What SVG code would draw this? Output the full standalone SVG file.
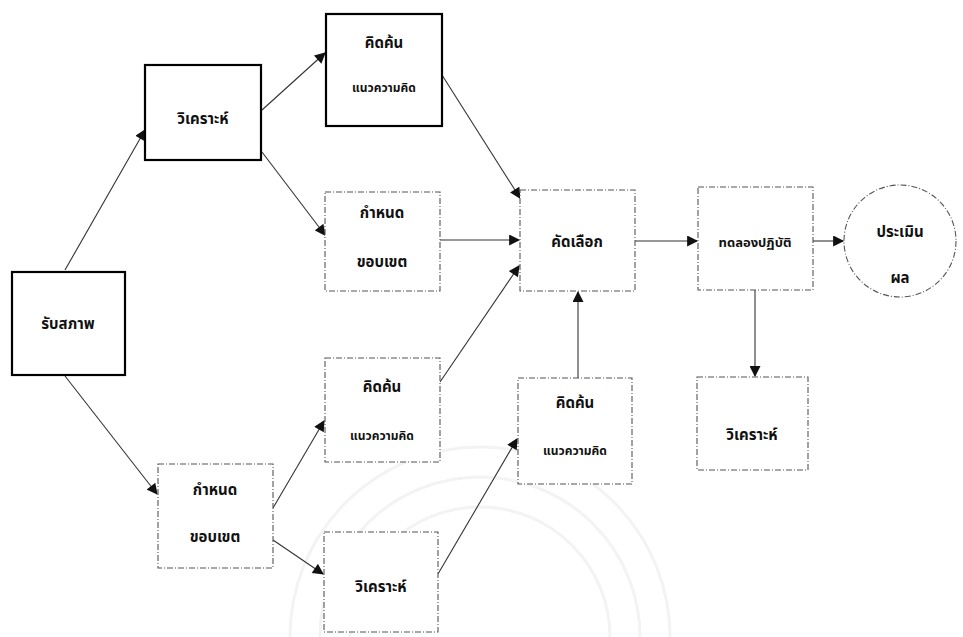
<svg xmlns="http://www.w3.org/2000/svg" width="963" height="637" viewBox="0 0 963 637">
<style>
.bx{fill:#fff;stroke:#222;stroke-width:1.3}
.bxd{fill:#fff;stroke:#555;stroke-width:1.1;stroke-dasharray:6 2 1 2}
.bxb{fill:#fff;stroke:#000;stroke-width:2.2}
.t{font-family:"Noto Sans Thai","Noto Sans","DejaVu Sans",sans-serif;font-size:15px;font-weight:bold;fill:#111;text-anchor:middle}
.c{stroke:#333;stroke-width:1.1;fill:none}
.wm{fill:none;stroke:#f3f3f3;stroke-width:3}
</style>
<defs>
<marker id="ah" viewBox="0 0 10 10" refX="9" refY="5" markerWidth="12" markerHeight="11" markerUnits="userSpaceOnUse" orient="auto">
<path d="M0,0 L10,5 L0,10 z" fill="#111"/>
</marker>
</defs>
<rect width="963" height="637" fill="#fff"/>
<g id="watermark">
<path class="wm" d="M290,637 A190,190 0 0 1 670,637"/>
<path class="wm" d="M320,637 A160,160 0 0 1 640,637"/>
<path class="wm" d="M350,637 A130,130 0 0 1 610,637"/>
</g>
<g id="connectors">
<line class="c" x1="65" y1="270" x2="145" y2="130" marker-end="url(#ah)"/>
<line class="c" x1="65" y1="376" x2="157" y2="494" marker-end="url(#ah)"/>
<line class="c" x1="262" y1="110" x2="325" y2="53" marker-end="url(#ah)"/>
<line class="c" x1="262" y1="152" x2="325" y2="235" marker-end="url(#ah)"/>
<line class="c" x1="442" y1="75" x2="520" y2="198" marker-end="url(#ah)"/>
<line class="c" x1="440" y1="240" x2="519" y2="240" marker-end="url(#ah)"/>
<line class="c" x1="440" y1="382" x2="519" y2="266" marker-end="url(#ah)"/>
<line class="c" x1="273" y1="508" x2="324" y2="421" marker-end="url(#ah)"/>
<line class="c" x1="273" y1="540" x2="323" y2="574" marker-end="url(#ah)"/>
<line class="c" x1="438" y1="574" x2="517" y2="439" marker-end="url(#ah)"/>
<line class="c" x1="578" y1="378" x2="578" y2="292" marker-end="url(#ah)"/>
<line class="c" x1="635" y1="241" x2="697" y2="241" marker-end="url(#ah)"/>
<line class="c" x1="813" y1="241" x2="843" y2="241" marker-end="url(#ah)"/>
<line class="c" x1="755" y1="290" x2="755" y2="376" marker-end="url(#ah)"/>
</g>
<g id="n1"><rect class="bxb" x="12" y="272" width="113" height="103"/><text class="t" x="68" y="329">รับสภาพ</text></g>
<g id="n2"><rect class="bxb" x="145" y="65" width="116" height="95"/><text class="t" x="203" y="124">วิเคราะห์</text></g>
<g id="n3"><rect class="bxb" x="326" y="14" width="116" height="112"/><text class="t" x="384" y="48">คิดค้น</text><text class="t" x="384" y="92" style="font-size:12px">แนวความคิด</text></g>
<g id="n4"><rect class="bxd" x="325" y="192" width="115" height="99"/><text class="t" x="382" y="218">กำหนด</text><text class="t" x="382" y="267">ขอบเขต</text></g>
<g id="n5"><rect class="bxd" x="325" y="358" width="115" height="104"/><text class="t" x="382" y="392">คิดค้น</text><text class="t" x="382" y="440" style="font-size:12px">แนวความคิด</text></g>
<g id="n6"><rect class="bxd" x="158" y="464" width="115" height="104"/><text class="t" x="215" y="495">กำหนด</text><text class="t" x="215" y="542">ขอบเขต</text></g>
<g id="n7"><rect class="bxd" x="324" y="532" width="114" height="100"/><text class="t" x="381" y="592">วิเคราะห์</text></g>
<g id="n8"><rect class="bxd" x="520" y="190" width="115" height="101"/><text class="t" x="577" y="247">คัดเลือก</text></g>
<g id="n9"><rect class="bxd" x="518" y="378" width="114" height="106"/><text class="t" x="575" y="408">คิดค้น</text><text class="t" x="575" y="455" style="font-size:12px">แนวความคิด</text></g>
<g id="n10"><rect class="bxd" x="698" y="187" width="115" height="103"/><text class="t" x="755" y="247" style="font-size:13px">ทดลองปฏิบัติ</text></g>
<g id="n11"><circle class="bxd" cx="900" cy="241" r="56"/><text class="t" x="900" y="237">ประเมิน</text><text class="t" x="900" y="283">ผล</text></g>
<g id="n12"><rect class="bxd" x="697" y="377" width="111" height="93"/><text class="t" x="752" y="440">วิเคราะห์</text></g>
</svg>
